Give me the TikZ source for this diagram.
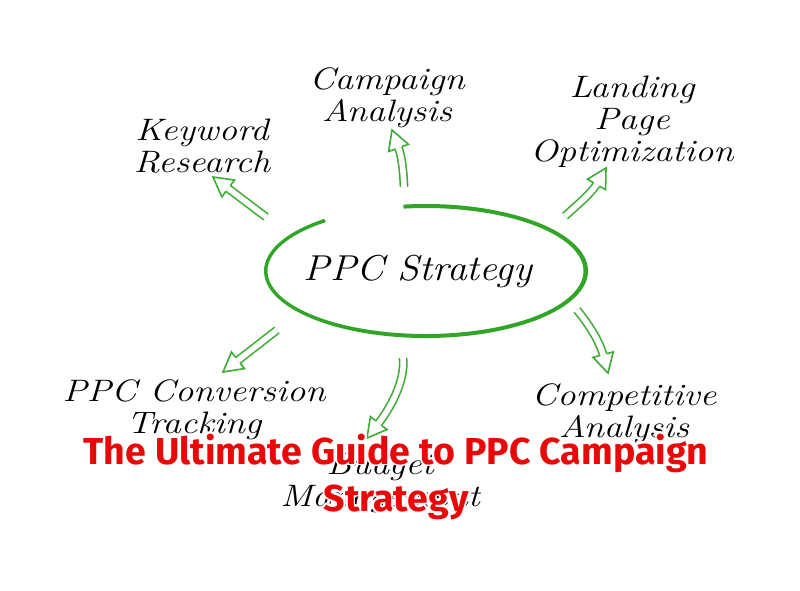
\documentclass[tikz,border=0pt]{standalone}
\usepackage{fontspec}
\usepackage{graphicx}
\usepackage{contour}
\usetikzlibrary{calc}
\newfontfamily\titlefont{Fira Sans}
\definecolor{ellgreen}{RGB}{48,165,38}
\definecolor{arrgreen}{RGB}{62,172,52}
\definecolor{titlered}{RGB}{232,8,8}
\contourlength{1.6pt}
\contournumber{24}
\newcommand\hw[1]{\strut\scalebox{1.18}[1]{#1}}
\newcommand\tl[1]{\strut\contour{white}{#1}}
\def\arrHL{19}
\def\arrW{10.5}
\def\arrD{3.6}
% tail, tip, end angle, start angle, start len, end len
\newcommand\harrow[6]{%
  \coordinate (hb) at ($(#2)+({#3+180}:\arrHL)$);
  \draw[ashaft] (#1) .. controls +(#4:#5) and +({#3+180}:#6) .. (hb);
  \draw[ahead] ($(hb)+({#3+90}:\arrD)$) -- ($(hb)+({#3+90}:\arrW)$) -- (#2)
     -- ($(hb)+({#3-90}:\arrW)$) -- ($(hb)+({#3-90}:\arrD)$);
}
\tikzset{
  ashaft/.style={draw=arrgreen, double=white, double distance=5.6pt, line width=1.6pt},
  ahead/.style={draw=arrgreen, line width=1.6pt, line join=miter},
  lbl/.style={font=\fontsize{31}{32}\selectfont\itshape, align=center, inner sep=0pt, text=black},
  titlestyle/.style={font=\titlefont\bfseries\fontsize{37.5}{47}\selectfont, text=titlered, align=center, inner sep=0pt},
}
\begin{document}
\begin{tikzpicture}[x=1pt,y=-1pt]
\useasboundingbox (0,0) rectangle (800,590);
\fill[white] (0,0) rectangle (800,590);

% central ellipse (hand-drawn look)
\fill[ellgreen] ([shift={(426,271)}]262:162 and 67)
  arc[start angle=262,end angle=591,x radius=162,y radius=67]
  -- ([shift={(425.5,271)}]591:158 and 63)
  arc[start angle=591,end angle=262,x radius=158,y radius=63] -- cycle;
\node[lbl, font=\fontsize{36}{40}\selectfont\itshape, anchor=base] (center) at (418,280) {\scalebox{1.1}[1]{PPC Strategy}};

% labels
\node[lbl] (kw) at (202,149.6) {\hw{Keyword}\\\hw{Research}};
\node[lbl] (ca) at (387,98.6) {\hw{Campaign}\\\hw{Analysis}};
\node[lbl] (lp) at (632,123.1) {\hw{Landing}\\\hw{Page}\\\hw{Optimization}};
\node[lbl] (co) at (624,414.6) {\hw{Competitive}\\\hw{Analysis}};
\node[lbl] (pc) at (194,410.6) {\hw{PPC Conversion}\\\hw{Tracking}};
\node[lbl] (bm) at (380,483.6) {\hw{Budget}\\\hw{Management}};

% arrow end points
\coordinate (kwT) at (266,217); \coordinate (kwH) at (213,177);
\coordinate (caT) at (404,187); \coordinate (caH) at (392,130);
\coordinate (lpT) at (565,216); \coordinate (lpH) at (606,168);
\coordinate (coT) at (577,310); \coordinate (coH) at (608,373);
\coordinate (bmT) at (403,358); \coordinate (bmH) at (367,438);
\coordinate (pcT) at (277,330); \coordinate (pcH) at (223,372);

\harrow{kwT}{kwH}{217}{217}{10}{10}
\harrow{caT}{caH}{250}{268}{15}{10}
\harrow{lpT}{lpH}{300}{318}{12}{10}
\harrow{coT}{coH}{75}{50}{15}{15}
\harrow{bmT}{bmH}{128}{84}{25}{15}
\harrow{pcT}{pcH}{142}{142}{10}{10}

% title
\node[titlestyle] (title) at (396,478.1) {\tl{The Ultimate Guide to PPC Campaign}\\\tl{Strategy}};
\end{tikzpicture}
\end{document}
